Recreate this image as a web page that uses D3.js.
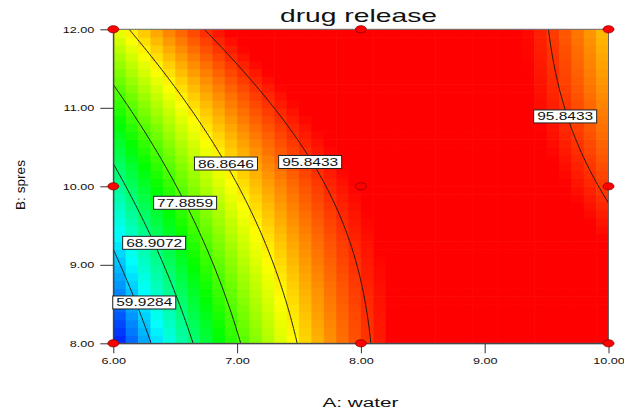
<!DOCTYPE html>
<html>
<head>
<meta charset="utf-8">
<script src="https://cdn.jsdelivr.net/npm/d3@7"></script>
<style>
  body { margin: 0; background: #fff; }
  text { font-family: "Liberation Sans", Arial, sans-serif; }
</style>
</head>
<body>
<svg id="chart"></svg>
<script>
const w = 624, h = 412;

// fitted quadratic, coded units: intercept, A, B, AB, A^2, B^2
const coef = [98.3, 14.05, 4.65, -12.1, -17.45, 1.3];
const levels = [59.9284, 68.9072, 77.8859, 86.8646, 95.8433];
// where the contour labels sit (A, B) and which level they show
const labelA = [6.25, 6.33, 6.58, 6.91, 7.59, 9.65];
const labelB = [8.52, 9.28, 9.79, 10.29, 10.31, 10.89];
const labelLevel = [0, 1, 2, 3, 4, 4];
// design points
const designA = [6, 8, 10, 6, 8, 10, 6, 8, 10];
const designB = [8, 8, 8, 10, 10, 10, 12, 12, 12];
const xTicks = [6, 7, 8, 9, 10];
const yTicks = [8, 9, 10, 11, 12];
const colorStops = [51.35, 63.0, 74.7, 86.4, 98.0];
const colorNames = ["#0000ff", "#00ffff", "#00ff00", "#ffff00", "#ff0000"];

function release(A, B) {
  const a = (A - 8) / 2, b = (B - 10) / 2;
  return coef[0] + coef[1]*a + coef[2]*b + coef[3]*a*b + coef[4]*a*a + coef[5]*b*b;
}

const x = d3.scaleLinear().domain([6, 10]).range([113.3, 608.5]);
const y = d3.scaleLinear().domain([8, 12]).range([343.3, 29.3]);
const color = d3.scaleLinear().domain(colorStops).range(colorNames).clamp(true);
const fmt = d3.format(".2f");

const svg = d3.select("#chart").attr("width", w).attr("height", h);

svg.append("clipPath").attr("id", "plot")
  .append("rect")
    .attr("x", x(6)).attr("y", y(12))
    .attr("width", x(10) - x(6)).attr("height", y(8) - y(12));

// colour cells
const n = 40;
const cells = [];
for (let j = 0; j < n; j++)
  for (let i = 0; i < n; i++)
    cells.push({ A: 6 + 4 * (i + 0.5) / n, B: 8 + 4 * (j + 0.5) / n, i, j });

const cw = (x(10) - x(6)) / n, ch = (y(8) - y(12)) / n;
svg.append("g")
  .attr("clip-path", "url(#plot)")
  .selectAll("rect")
  .data(cells)
  .enter()
  .append("rect")
    .attr("x", d => x(6 + 4 * d.i / n))
    .attr("y", d => y(8 + 4 * (d.j + 1) / n))
    .attr("width", cw + 0.6)
    .attr("height", ch + 0.6)
    .style("fill", d => color(release(d.A, d.B)));

// contour lines on a grid slightly larger than the plot, then clipped
const A0 = 5.9, B0 = 7.9, step = 0.02, nx = 211, ny = 211;
const values = new Array(nx * ny);
for (let j = 0; j < ny; j++)
  for (let i = 0; i < nx; i++)
    values[i + j * nx] = release(A0 + i * step, B0 + j * step);

const contours = d3.contours().size([nx, ny]).thresholds(levels)(values);
const proj = d3.geoTransform({
  point: function(px, py) { this.stream.point(x(A0 + px * step), y(B0 + py * step)); }
});
svg.append("g")
  .attr("clip-path", "url(#plot)")
  .selectAll("path")
  .data(contours)
  .enter()
  .append("path")
    .attr("d", d3.geoPath(proj))
    .style("fill", "none")
    .style("stroke", "#1a1a1a")
    .style("stroke-width", 1);

// frame
svg.append("rect")
  .attr("x", x(6)).attr("y", y(12))
  .attr("width", x(10) - x(6)).attr("height", y(8) - y(12))
  .style("fill", "none").style("stroke", "#666").style("stroke-width", 1);

// axes
const gx = svg.append("g")
  .attr("transform", `translate(0,${y(8)})`)
  .call(d3.axisBottom(x).tickValues(xTicks).tickFormat(fmt).tickSize(10).tickPadding(4).tickSizeOuter(0));
const gy = svg.append("g")
  .attr("transform", `translate(${x(6)},0)`)
  .call(d3.axisLeft(y).tickValues(yTicks).tickFormat(fmt).tickSize(13).tickPadding(6).tickSizeOuter(0));

[gx, gy].forEach(g => {
  g.select(".domain").style("stroke", "#333");
  g.selectAll(".tick line").style("stroke", "#333");
  g.selectAll(".tick text")
    .style("font-family", "Liberation Sans, Arial, sans-serif")
    .style("font-size", "9.5px")
    .style("fill", "#111")
    .each(function() {
      const len = this.getComputedTextLength();
      d3.select(this).attr("textLength", len * 1.33).attr("lengthAdjust", "spacingAndGlyphs");
    });
});

// contour labels
const lab = svg.append("g")
  .selectAll("g")
  .data(labelA.map((a, k) => ({ A: a, B: labelB[k], v: levels[labelLevel[k]] })))
  .enter()
  .append("g")
    .attr("transform", d => `translate(${x(d.A)},${y(d.B)})`);
lab.append("rect")
  .attr("x", -31.5).attr("y", -6.5).attr("width", 63).attr("height", 13)
  .style("fill", "#fff").style("stroke", "#222").style("stroke-width", 1);
lab.append("text")
  .attr("text-anchor", "middle")
  .attr("y", 4)
  .attr("textLength", 56)
  .attr("lengthAdjust", "spacingAndGlyphs")
  .style("font-size", "11px")
  .style("fill", "#111")
  .text(d => d.v.toFixed(4));

// design points
svg.append("g")
  .selectAll("ellipse")
  .data(designA.map((a, k) => ({ A: a, B: designB[k] })))
  .enter()
  .append("ellipse")
    .attr("cx", d => x(d.A))
    .attr("cy", d => y(d.B))
    .attr("rx", 5.5)
    .attr("ry", 3.6)
    .style("fill", "#ff0000")
    .style("stroke", "#8a0000")
    .style("stroke-width", 0.8);

// titles
svg.append("text")
  .attr("x", 358.5).attr("y", 22)
  .attr("text-anchor", "middle")
  .attr("textLength", 157).attr("lengthAdjust", "spacingAndGlyphs")
  .style("font-size", "19px").style("fill", "#111")
  .text("drug release");

svg.append("text")
  .attr("x", 360.5).attr("y", 407)
  .attr("text-anchor", "middle")
  .attr("textLength", 76).attr("lengthAdjust", "spacingAndGlyphs")
  .style("font-size", "12.5px").style("fill", "#111")
  .text("A: water");

svg.append("text")
  .attr("transform", "translate(25,185) rotate(-90)")
  .attr("text-anchor", "middle")
  .attr("textLength", 50).attr("lengthAdjust", "spacingAndGlyphs")
  .style("font-size", "13px").style("fill", "#111")
  .text("B: spres");
</script>
</body>
</html>
